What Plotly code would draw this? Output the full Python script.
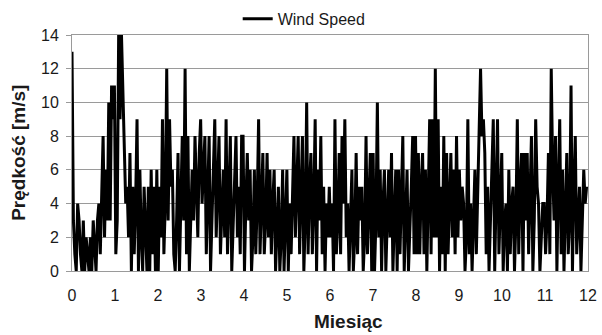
import numpy as np
import plotly.graph_objects as go

# Daily wind speed values [m/s], month by month
m01 = [13, 3, 1, 0, 4, 3, 1, 0, 3, 0, 2, 1, 0, 2, 0, 3, 1, 0, 3, 4, 1, 5, 8, 2, 6, 3, 10, 3, 11, 9]
m02 = [11, 1, 3, 14, 9, 14, 11, 8, 4, 5, 2, 7, 0, 5, 1, 4, 9, 0, 6, 2, 0, 5, 3, 0, 5, 0, 6, 1, 5, 0]
m03 = [6, 0, 5, 2, 9, 1, 4, 12, 3, 9, 5, 6, 1, 0, 3, 7, 0, 5, 8, 3, 12, 1, 8, 0, 4, 6, 3, 8, 5, 2]
m04 = [7, 9, 4, 6, 8, 1, 5, 8, 0, 3, 6, 9, 2, 5, 8, 1, 4, 6, 2, 9, 1, 5, 8, 0, 3, 6, 8, 2, 5, 1, 8]
m05 = [8, 0, 4, 7, 3, 6, 0, 2, 6, 1, 4, 9, 1, 5, 7, 1, 3, 7, 2, 6, 1, 4, 6, 0, 3, 5, 0, 2, 6, 0]
m06 = [3, 6, 0, 4, 1, 5, 8, 2, 6, 8, 1, 4, 8, 0, 3, 10, 1, 5, 7, 1, 4, 9, 0, 6, 3, 8, 1, 5, 0, 4, 2]
m07 = [5, 2, 4, 0, 9, 1, 3, 7, 1, 8, 4, 9, 2, 4, 0, 3, 6, 0, 2, 7, 1, 5, 3, 5, 0, 2, 8, 1, 4, 7, 0]
m08 = [7, 0, 3, 10, 2, 6, 0, 4, 6, 0, 3, 6, 2, 7, 0, 4, 6, 0, 6, 1, 4, 8, 0, 3, 6, 0, 2, 5, 8, 1]
m09 = [8, 1, 7, 1, 5, 7, 1, 6, 0, 4, 9, 1, 9, 2, 12, 2, 9, 0, 5, 1, 8, 0, 7, 1, 4, 7, 2, 6, 1, 8, 2]
m10 = [6, 3, 5, 4, 0, 2, 9, 1, 4, 0, 3, 6, 1, 5, 9, 12, 8, 9, 7, 1, 5, 0, 3, 7, 9, 0, 4, 9, 1, 5]
m11 = [7, 0, 3, 4, 0, 6, 1, 4, 5, 0, 3, 9, 1, 5, 7, 0, 7, 3, 7, 1, 4, 8, 0, 3, 9, 5, 4, 0, 2, 4]
m12 = [4, 1, 3, 7, 1, 12, 6, 3, 8, 0, 5, 9, 1, 6, 0, 4, 7, 1, 3, 11, 0, 5, 8, 1, 3, 5, 0, 4, 6, 4, 5]

speed = m01 + m02 + m03 + m04 + m05 + m06 + m07 + m08 + m09 + m10 + m11 + m12
months = np.arange(len(speed)) * 12.0 / len(speed)

x_ticks = list(range(0, 13))
y_ticks = list(range(0, 15, 2))

FONT = "Liberation Sans, Arial, sans-serif"
GRID = "#9a9a9a"
TXT = "#1a1a1a"

fig = go.Figure()
fig.add_trace(go.Scatter(x=months, y=speed, mode="lines", name="Wind Speed",
                         line=dict(color="black", width=3)))

fig.update_layout(
    width=602, height=335,
    margin=dict(l=72, r=14, t=35, b=64, autoexpand=False),
    paper_bgcolor="white", plot_bgcolor="white",
    font=dict(family=FONT, size=16, color=TXT),
    showlegend=True,
    legend=dict(orientation="h", x=0.45, xanchor="center", y=1.068, yanchor="middle",
                font=dict(size=16, color=TXT), itemwidth=30, bgcolor="rgba(0,0,0,0)",
                borderwidth=0, tracegroupgap=0),
    annotations=[
        dict(text="<b>Miesiąc</b>", xref="paper", yref="paper", x=0.535, y=-0.163,
             xanchor="center", yanchor="top", showarrow=False,
             font=dict(family=FONT, size=19, color=TXT)),
        dict(text="<b>Prędkość [m/s]</b>", xref="paper", yref="paper", x=-0.105, y=0.5,
             xanchor="center", yanchor="middle", showarrow=False, textangle=-90,
             font=dict(family=FONT, size=19, color=TXT)),
    ],
)
fig.update_xaxes(range=[0, 12], tickmode="array", tickvals=x_ticks, ticktext=[str(v) for v in x_ticks],
                 showgrid=False, zeroline=False, showline=True, linecolor=GRID, linewidth=1, mirror=True,
                 ticks="", tickfont=dict(size=16, color=TXT), ticklabelstandoff=10)
fig.update_yaxes(range=[0, 14], tickmode="array", tickvals=y_ticks, ticktext=[str(v) for v in y_ticks],
                 showgrid=True, gridcolor=GRID, gridwidth=1, zeroline=False,
                 showline=True, linecolor=GRID, linewidth=1, mirror=True,
                 ticks="outside", ticklen=5, tickcolor=GRID, tickfont=dict(size=16, color=TXT),
                 ticklabelstandoff=4)

fig.write_html("out.html")
